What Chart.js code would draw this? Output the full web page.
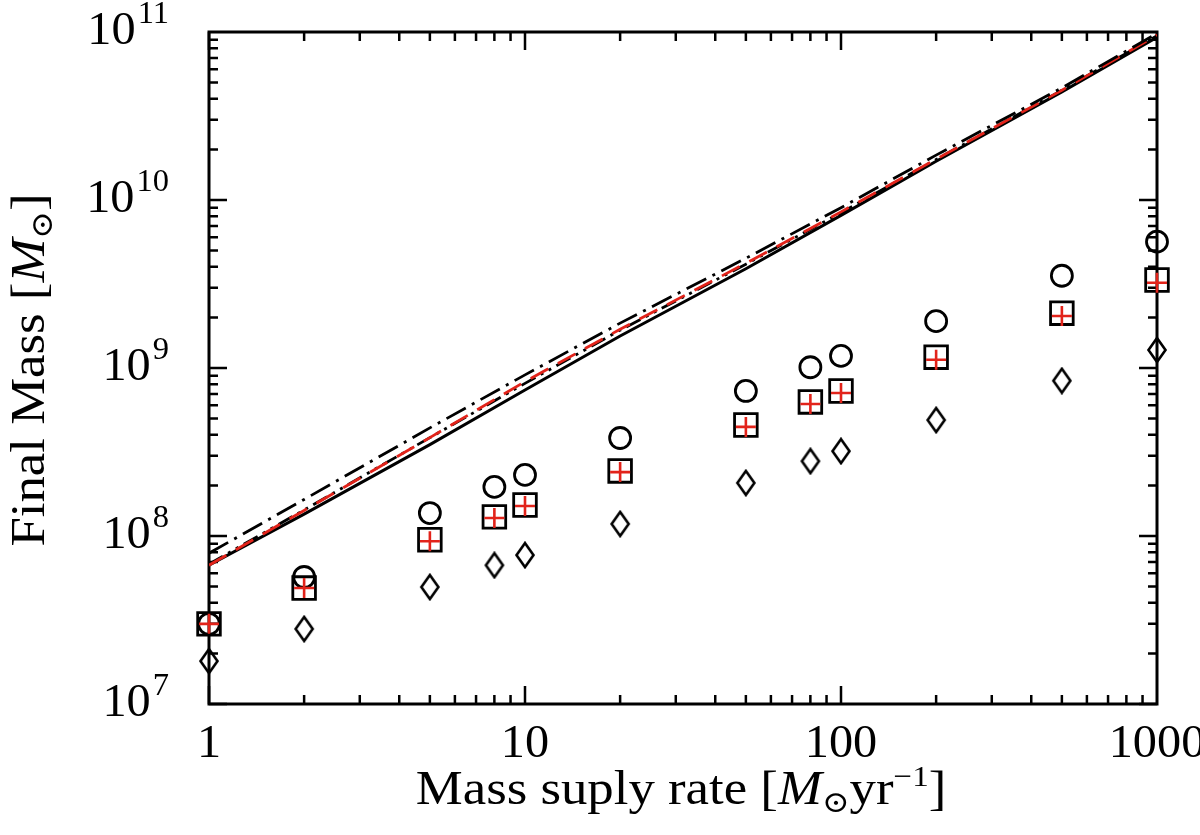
<!DOCTYPE html>
<html>
<head>
<meta charset="utf-8">
<script src="https://cdn.jsdelivr.net/npm/chart.js@4.4.1/dist/chart.umd.min.js"></script>
<style>
html, body { margin: 0; padding: 0; background: #fff; }
</style>
</head>
<body>
<canvas id="canvas" width="1200" height="835"></canvas>
<script>
// mass supply rates of the runs (markers)
var rates = [1, 2, 5, 8, 10, 20, 50, 80, 100, 200, 500, 1000];
var circleMass  = [3.0e7, 5.7e7, 1.37e8, 1.96e8, 2.31e8, 3.83e8, 7.3e8, 1.01e9, 1.18e9, 1.9e9, 3.54e9, 5.65e9];
var squareMass  = [3.0e7, 4.9e7, 9.5e7, 1.30e8, 1.53e8, 2.44e8, 4.58e8, 6.28e8, 7.3e8, 1.16e9, 2.12e9, 3.34e9];
var crossMass   = [3.0e7, 4.9e7, 9.3e7, 1.28e8, 1.51e8, 2.40e8, 4.46e8, 6.1e8, 7.1e8, 1.12e9, 2.04e9, 3.22e9];
var diamondMass = [1.8e7, 2.8e7, 4.97e7, 6.7e7, 7.7e7, 1.18e8, 2.07e8, 2.79e8, 3.2e8, 4.9e8, 8.4e8, 1.28e9];

// analytic curves
var lineRates      = [1, 2, 5, 10, 20, 50, 100, 200, 500, 1000];
var solidMass      = [6.7e7, 1.35e8, 3.5e8, 7.4e8, 1.55e9, 3.9e9, 8.1e9, 1.7e10, 4.4e10, 9.3e10];
var dashDotDotMass = [6.8e7, 1.43e8, 3.85e8, 8.1e8, 1.68e9, 4.15e9, 8.4e9, 1.74e10, 4.5e10, 9.5e10];
var redDashMass    = [6.7e7, 1.42e8, 3.85e8, 8.3e8, 1.7e9, 4.2e9, 8.5e9, 1.75e10, 4.5e10, 9.6e10];
var dashDotMass    = [7.9e7, 1.65e8, 4.4e8, 9.1e8, 1.85e9, 4.5e9, 9.0e9, 1.85e10, 4.65e10, 9.8e10];

var xTickValues = [1, 10, 100, 1000];
var xTickLabels = ['1', '10', '100', '1000'];
var yTickValues = [1e7, 1e8, 1e9, 1e10, 1e11];
var yTickExps   = ['7', '8', '9', '10', '11'];

var FONT = '"Liberation Serif", "DejaVu Serif", serif';
var RED = '#e2231a';

function pts(xs, ys) {
    return xs.map(function(x, i) { return {x: x, y: ys[i]}; });
}

// tall open diamond
var diamond = document.createElement('canvas');
diamond.width = 22;
diamond.height = 28;
(function() {
    var c = diamond.getContext('2d');
    c.strokeStyle = '#000';
    c.lineWidth = 2.6;
    c.beginPath();
    c.moveTo(11, 2);
    c.lineTo(19.5, 14);
    c.lineTo(11, 26);
    c.lineTo(2.5, 14);
    c.closePath();
    c.stroke();
})();

// text made of runs with different fonts, squeezed wider like the TeX font
function drawRuns(ctx, runs, cx, y, sx) {
    var total = 0;
    runs.forEach(function(r) { ctx.font = r.font; total += ctx.measureText(r.t).width; });
    ctx.save();
    ctx.translate(cx, y);
    ctx.scale(sx, 1);
    var x = -total / 2;
    runs.forEach(function(r) {
        ctx.font = r.font;
        ctx.fillText(r.t, x, r.dy || 0);
        x += ctx.measureText(r.t).width;
    });
    ctx.restore();
}

var frame = {
    id: 'frame',
    beforeDatasetsDraw: function(chart) {
        var ctx = chart.ctx, a = chart.chartArea;
        var xs = chart.scales.x, ys = chart.scales.y;
        ctx.save();
        ctx.strokeStyle = '#000';
        ctx.lineWidth = 2.5;
        ctx.beginPath();
        for (var d = 0; d < 3; d++) {
            for (var m = 1; m < 10; m++) {
                var px = xs.getPixelForValue(m * Math.pow(10, d));
                var len = m === 1 ? 18 : 9;
                ctx.moveTo(px, a.bottom); ctx.lineTo(px, a.bottom - len);
                ctx.moveTo(px, a.top); ctx.lineTo(px, a.top + len);
            }
        }
        for (var e = 7; e < 11; e++) {
            for (var k = 1; k < 10; k++) {
                var py = ys.getPixelForValue(k * Math.pow(10, e));
                var l = k === 1 ? 18 : 9;
                ctx.moveTo(a.left, py); ctx.lineTo(a.left + l, py);
                ctx.moveTo(a.right, py); ctx.lineTo(a.right - l, py);
            }
        }
        ctx.stroke();
        ctx.lineWidth = 3;
        ctx.strokeRect(a.left, a.top, a.right - a.left, a.bottom - a.top);
        ctx.restore();
    },
    afterDraw: function(chart) {
        var ctx = chart.ctx, a = chart.chartArea;
        var xs = chart.scales.x, ys = chart.scales.y;
        ctx.save();
        ctx.fillStyle = '#000';
        ctx.textBaseline = 'alphabetic';
        ctx.textAlign = 'left';
        var big = '48px ' + FONT, it = 'italic 48px ' + FONT, sm = '30px ' + FONT;
        xTickValues.forEach(function(v, i) {
            drawRuns(ctx, [{t: xTickLabels[i], font: '46px ' + FONT}], xs.getPixelForValue(v), a.bottom + 53, 1.05);
        });
        yTickValues.forEach(function(v, i) {
            var py = ys.getPixelForValue(v);
            ctx.font = '31px ' + FONT;
            var ew = ctx.measureText(yTickExps[i]).width * 1.05;
            ctx.font = '46px ' + FONT;
            var bw = ctx.measureText('10').width * 1.05;
            var right = 169;
            drawRuns(ctx, [{t: '10', font: '46px ' + FONT}], right - ew - 2 - bw / 2, py + 12, 1.05);
            drawRuns(ctx, [{t: yTickExps[i], font: '31px ' + FONT}], right - ew / 2, py - 9, 1.05);
        });
        drawRuns(ctx, [
            {t: 'Mass suply rate [', font: big},
            {t: 'M', font: it},
            {t: '\u2299', font: sm, dy: 8},
            {t: 'yr', font: big},
            {t: '\u22121', font: sm, dy: -18},
            {t: ']', font: big}
        ], 681, 804, 1.1);
        ctx.translate(44, 370);
        ctx.rotate(-Math.PI / 2);
        drawRuns(ctx, [
            {t: 'Final Mass [', font: big},
            {t: 'M', font: it},
            {t: '\u2299', font: sm, dy: 8},
            {t: ']', font: big}
        ], 0, 0, 1.1);
        ctx.restore();
    }
};

var ctx = document.getElementById('canvas').getContext('2d');
new Chart(ctx, {
    type: 'line',
    data: {
        datasets: [{
            data: pts(rates, crossMass),
            showLine: false, pointStyle: 'cross', pointRadius: 10,
            pointBorderColor: RED, pointBorderWidth: 2.6, clip: false
        }, {
            data: pts(rates, squareMass),
            showLine: false, pointStyle: 'rect', pointRadius: 16,
            pointBorderColor: '#000', pointBackgroundColor: 'transparent', pointBorderWidth: 2.8, clip: false
        }, {
            data: pts(rates, circleMass),
            showLine: false, pointStyle: 'circle', pointRadius: 10.5,
            pointBorderColor: '#000', pointBackgroundColor: 'transparent', pointBorderWidth: 2.8, clip: false
        }, {
            data: pts(rates, diamondMass),
            showLine: false, pointStyle: diamond, pointRadius: 12, clip: false
        }, {
            data: pts(lineRates, dashDotMass),
            borderColor: '#000', borderWidth: 2.8, borderDash: [22, 7, 3, 7], pointRadius: 0
        }, {
            data: pts(lineRates, redDashMass),
            borderColor: RED, borderWidth: 2.8, borderDash: [20, 11], pointRadius: 0
        }, {
            data: pts(lineRates, dashDotDotMass),
            borderColor: '#000', borderWidth: 2.8, borderDash: [16, 6, 3, 6, 3, 6], pointRadius: 0
        }, {
            data: pts(lineRates, solidMass),
            borderColor: '#000', borderWidth: 3, pointRadius: 0
        }]
    },
    options: {
        responsive: false,
        animation: false,
        devicePixelRatio: 1,
        layout: { padding: { left: 0, right: 43, top: 32, bottom: 0 } },
        plugins: { legend: { display: false }, tooltip: { enabled: false } },
        elements: { line: { tension: 0 } },
        scales: {
            x: {
                type: 'logarithmic', min: 1, max: 1000,
                ticks: { display: false }, grid: { display: false }, border: { display: false },
                afterFit: function(s) { s.height = 131; }
            },
            y: {
                type: 'logarithmic', min: 1e7, max: 1e11,
                ticks: { display: false }, grid: { display: false }, border: { display: false },
                afterFit: function(s) { s.width = 209; }
            }
        }
    },
    plugins: [frame]
});
</script>
</body>
</html>
